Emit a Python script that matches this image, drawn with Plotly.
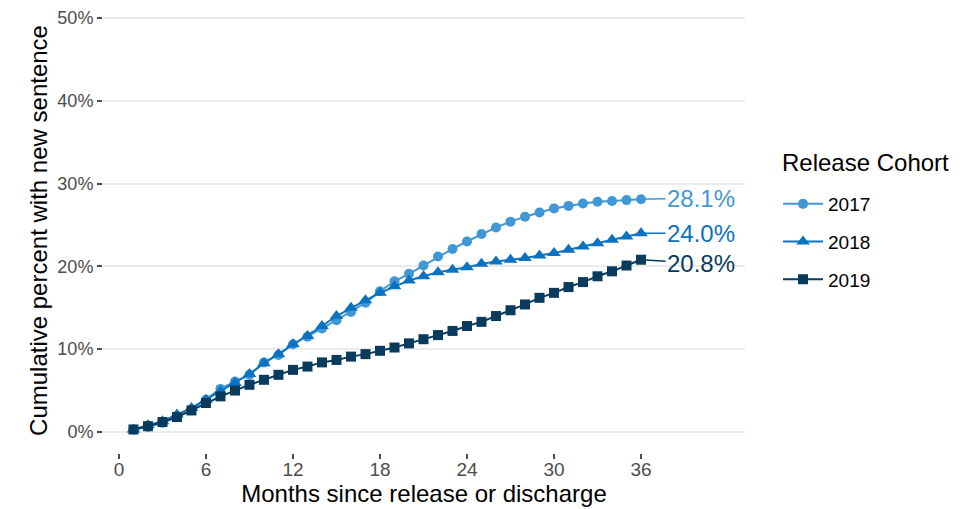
import plotly.graph_objects as go

months = list(range(1, 37))
cohorts = ["2017", "2018", "2019"]
vals_2017 = [0.3, 0.6, 1.1, 1.8, 2.7, 3.9, 5.2, 6.1, 6.9, 8.4, 9.3, 10.6, 11.5, 12.5, 13.5, 14.5,
             15.6, 17.0, 18.2, 19.1, 20.1, 21.2, 22.1, 23.0, 23.9, 24.7, 25.4, 26.0, 26.5, 27.0,
             27.3, 27.6, 27.8, 27.9, 28.0, 28.1]
vals_2018 = [0.3, 0.8, 1.3, 2.1, 2.9, 3.9, 4.9, 5.9, 7.0, 8.3, 9.4, 10.6, 11.6, 12.8, 14.0, 15.0,
             15.9, 16.8, 17.6, 18.3, 18.8, 19.3, 19.6, 19.9, 20.3, 20.6, 20.8, 21.0, 21.3, 21.6,
             22.0, 22.4, 22.8, 23.2, 23.6, 24.0]
vals_2019 = [0.3, 0.7, 1.2, 1.8, 2.6, 3.5, 4.3, 5.0, 5.7, 6.3, 6.9, 7.5, 7.9, 8.4, 8.7, 9.1,
             9.4, 9.8, 10.2, 10.7, 11.2, 11.7, 12.2, 12.8, 13.3, 14.0, 14.7, 15.4, 16.2, 16.8,
             17.5, 18.1, 18.8, 19.4, 20.1, 20.8]
x_ticks = [0, 6, 12, 18, 24, 30, 36]
y_ticks = [0, 10, 20, 30, 40, 50]
y_tick_labels = ["0%", "10%", "20%", "30%", "40%", "50%"]
legend_title = "Release Cohort"

series = [vals_2017, vals_2018, vals_2019]
colors = ["#3f97d5", "#0b72c1", "#083b5d"]
symbols = ["circle", "triangle-up", "square"]
msizes = [10, 12, 10]
label_ay = [-1, 0, 4]

FONT = "Liberation Sans, Arial, sans-serif"

# The page adds an 8px body margin, so the figure is 8px smaller each way.
W, H = 958, 501
L, R, T, B = 95, 221, 0, 56
PW, PH = W - L - R, H - T - B

fig = go.Figure()
for name, vals, c, s, ms in zip(cohorts, series, colors, symbols, msizes):
    fig.add_trace(go.Scatter(
        x=months, y=vals, name=name, legendgroup=name,
        mode="lines+markers",
        line=dict(color=c, width=2),
        marker=dict(color=c, symbol=s, size=ms),
        hoverinfo="x+y+name",
    ))

for vals, c, ay in zip(series, colors, label_ay):
    fig.add_annotation(
        x=months[-1], y=vals[-1], xref="x", yref="y",
        text=f"{vals[-1]:.1f}%", showarrow=True, arrowhead=0, arrowwidth=1.5,
        arrowcolor=c, ax=60, ay=ay, standoff=0,
        font=dict(family=FONT, size=24, color=c),
    )

# legend title as a free text, so its gap to the entries can match
fig.add_annotation(
    x=(772 - L) / PW, y=1 - (154 - T) / PH, xref="paper", yref="paper",
    xanchor="left", yanchor="middle", showarrow=False,
    text=legend_title, font=dict(family=FONT, size=24, color="#000000"),
)

fig.update_layout(
    width=W, height=H,
    margin=dict(l=L, r=R, t=T, b=B, autoexpand=False),
    plot_bgcolor="white", paper_bgcolor="white",
    font=dict(family=FONT, color="#000000"),
    showlegend=True,
    legend=dict(
        font=dict(size=19, color="#000000"),
        xref="container", yref="container",
        x=770 / W, xanchor="left", y=1 - 177 / H, yanchor="top",
        tracegroupgap=10, itemwidth=40,
    ),
    xaxis=dict(
        range=[-1.1, 43.17], tickmode="array", tickvals=x_ticks,
        ticktext=[str(t) for t in x_ticks],
        showgrid=False, zeroline=False, showline=False,
        ticks="outside", ticklen=5, tickwidth=1.5, tickcolor="#4d4d4d",
        tickfont=dict(size=19, color="#4d4d4d"), ticklabelstandoff=-6,
        title=dict(text="Months since release or discharge", font=dict(size=24, color="#000000"), standoff=2),
    ),
    yaxis=dict(
        range=[-2.54, 51.2], tickmode="array", tickvals=y_ticks, ticktext=y_tick_labels,
        showgrid=True, gridcolor="#ebebeb", gridwidth=1.5, zeroline=False, showline=False,
        ticks="outside", ticklen=5, tickwidth=1.5, tickcolor="#4d4d4d",
        tickfont=dict(size=18, color="#4d4d4d"),
        title=dict(text="Cumulative percent with new sentence", font=dict(size=24, color="#000000"), standoff=2),
    ),
)

fig.write_html("out.html")
